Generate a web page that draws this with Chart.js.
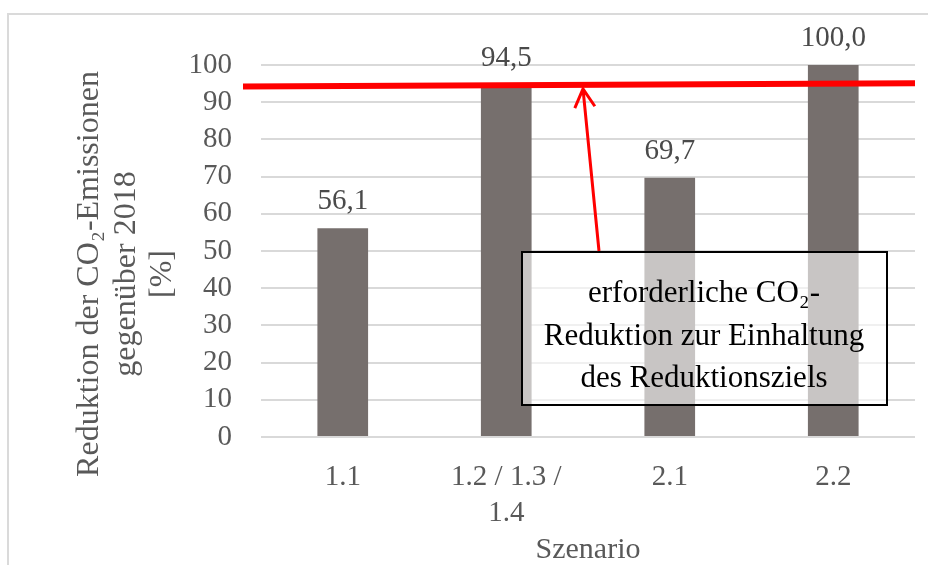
<!DOCTYPE html>
<html>
<head>
<meta charset="utf-8">
<script src="https://cdn.jsdelivr.net/npm/chart.js@4.4.1/dist/chart.umd.min.js"></script>
<style>
html, body { margin:0; padding:0; background:#fff; overflow:hidden; }
#rahmen { position:absolute; left:7px; top:13px; width:1000px; height:1000px; border:2px solid #dadada; }
#wrap { position:absolute; left:0; top:0; width:928px; height:565px; }
</style>
</head>
<body>
<div id="rahmen"></div>
<div id="wrap"><canvas id="wykres" width="928" height="565"></canvas></div>
<script>
// Daten
var szenarien = ["1.1", ["1.2 / 1.3 /", "1.4"], "2.1", "2.2"];
var reduktion = [56.1, 94.5, 69.7, 100.0];
var yMin = 0, yMax = 100, yStep = 10;
var zielLinie = [94.2, 95.1]; // Anfang / Ende der roten Linie
var achsenTitel = ["Reduktion der CO₂-Emissionen", "gegenüber 2018", "[%]"];
var hinweis = ["erforderliche CO₂-", "Reduktion zur Einhaltung", "des Reduktionsziels"];

var schrift = '"Liberation Serif", "Times New Roman", serif';

var dekor = {
	id: 'dekor',
	afterDatasetsDraw: function(chart) {
		var ctx = chart.ctx;
		var y = chart.scales.y;
		var a = chart.chartArea;
		var meta = chart.getDatasetMeta(0);
		ctx.save();

		// Werte ueber den Balken
		ctx.font = '29px ' + schrift;
		ctx.fillStyle = '#4a4a4a';
		ctx.textAlign = 'center';
		ctx.textBaseline = 'alphabetic';
		meta.data.forEach(function(bar, i) {
			ctx.fillText(reduktion[i].toFixed(1).replace('.', ','), bar.x, bar.y - 19);
		});

		// rote Linie (Reduktionsziel)
		var x0 = a.left - 18, x1 = a.right;
		var y0 = y.getPixelForValue(zielLinie[0]);
		var y1 = y.getPixelForValue(zielLinie[1]);
		ctx.strokeStyle = '#ff0000';
		ctx.lineWidth = 6;
		ctx.beginPath();
		ctx.moveTo(x0, y0);
		ctx.lineTo(x1, y1);
		ctx.stroke();

		// Kasten
		ctx.fillStyle = 'rgba(255,255,255,0.6)';
		ctx.fillRect(522, 252, 365, 153);
		ctx.strokeStyle = '#000';
		ctx.lineWidth = 2;
		ctx.strokeRect(522, 252, 365, 153);
		ctx.font = '31px ' + schrift;
		ctx.fillStyle = '#000';
		var basis = [302, 345, 387];
		hinweis.forEach(function(t, i) {
			ctx.fillText(t, 704, basis[i]);
		});

		// Pfeil
		var hx = 583;
		var hy = y0 + (y1 - y0) * (hx - x0) / (x1 - x0) + 4;
		var tx = 599, ty = 251;
		var ang = Math.atan2(hy - ty, hx - tx);
		ctx.strokeStyle = '#ff0000';
		ctx.lineWidth = 3;
		ctx.beginPath();
		ctx.moveTo(tx, ty);
		ctx.lineTo(hx, hy);
		ctx.moveTo(hx - 21 * Math.cos(ang - 0.5), hy - 21 * Math.sin(ang - 0.5));
		ctx.lineTo(hx, hy);
		ctx.lineTo(hx - 21 * Math.cos(ang + 0.5), hy - 21 * Math.sin(ang + 0.5));
		ctx.stroke();

		// Achsentitel y
		ctx.font = '32px ' + schrift;
		ctx.fillStyle = '#595959';
		var bx = [98, 135, 171];
		achsenTitel.forEach(function(t, i) {
			ctx.save();
			ctx.translate(bx[i], 274);
			ctx.rotate(-Math.PI / 2);
			ctx.fillText(t, 0, 0);
			ctx.restore();
		});

		ctx.restore();
	}
};

var ctx = document.getElementById('wykres');
var wykres = new Chart(ctx, {
	type: 'bar',
	data: {
		labels: szenarien,
		datasets: [{
			data: reduktion,
			backgroundColor: '#766f6d',
			barPercentage: 0.31,
			categoryPercentage: 1.0
		}]
	},
	options: {
		responsive: false,
		animation: false,
		layout: { padding: { left: 0, right: 13, top: 65, bottom: 0 } },
		plugins: { legend: { display: false }, tooltip: { enabled: false } },
		scales: {
			x: {
				grid: { display: false, drawTicks: false },
				border: { display: false },
				ticks: { color: '#595959', font: { family: schrift, size: 29, lineHeight: 1.24 }, padding: 22, maxRotation: 0, autoSkip: false },
				title: { display: true, text: 'Szenario', color: '#595959', font: { family: schrift, size: 30, lineHeight: 1.0 }, padding: 0 },
				afterFit: function(s) { s.height = 128; }
			},
			y: {
				min: yMin, max: yMax,
				grid: { color: '#d9d9d9', lineWidth: 2, drawTicks: false },
				border: { display: false },
				ticks: { stepSize: yStep, autoSkip: false, color: '#595959', font: { family: schrift, size: 29 }, padding: 29 },
				afterFit: function(s) { s.width = 261; }
			}
		}
	},
	plugins: [dekor]
});
</script>
</body>
</html>
